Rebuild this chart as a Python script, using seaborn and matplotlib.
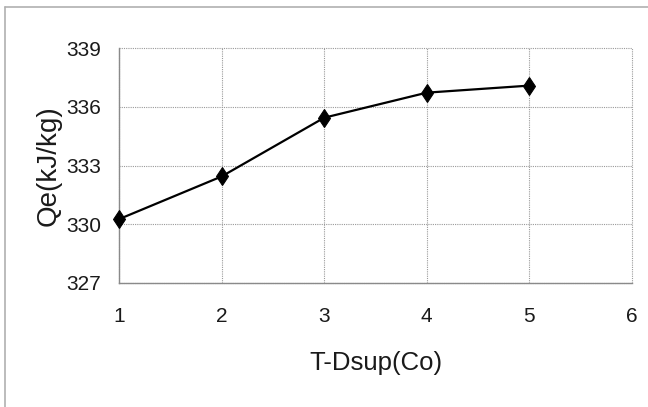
import numpy as np
import pandas as pd
import matplotlib
matplotlib.use("Agg")
import matplotlib.pyplot as plt
from matplotlib.lines import Line2D
import seaborn as sns

# values
t_dsup = [1, 2, 3, 4, 5]
qe = [330.26, 332.44, 335.44, 336.72, 337.08]
x_ticks = [1, 2, 3, 4, 5, 6]
y_ticks = [327, 330, 333, 336, 339]

df = pd.DataFrame({"T-Dsup(Co)": t_dsup, "Qe(kJ/kg)": qe})

sns.set_theme(style="white")
plt.rcParams['font.family'] = ['Liberation Sans', 'DejaVu Sans']

fig = plt.figure(figsize=(6.48, 4.07), dpi=100)
ax = fig.add_axes([119/648, 1 - 283/407, (632 - 119)/648, (283 - 48)/407])

sns.lineplot(data=df, x="T-Dsup(Co)", y="Qe(kJ/kg)", ax=ax, color="black",
             linewidth=1.6, marker="d", markersize=9.5, markeredgecolor="black",
             markerfacecolor="black", clip_on=False, zorder=5)

ax.set_xlim(1, 6)
ax.set_ylim(327, 339)
ax.set_xticks(x_ticks)
ax.set_yticks(y_ticks)

# dotted grid like the spreadsheet original
ax.grid(True, linestyle=(0, (1, 1)), color="#9a9a9a", linewidth=0.8)
for gl in ax.get_xgridlines() + ax.get_ygridlines():
    gl.set_clip_on(False)

for side in ["top", "right"]:
    ax.spines[side].set_visible(False)
for side in ["left", "bottom"]:
    ax.spines[side].set_color("#8a8a8a")
    ax.spines[side].set_linewidth(1.0)

ax.tick_params(axis="both", direction="out", length=5, width=0.8, color="#8a8a8a",
               labelsize=15, labelcolor="#1a1a1a")
ax.tick_params(axis="x", pad=12)
ax.tick_params(axis="y", pad=8)
ax.set_xlabel("T-Dsup(Co)", fontsize=18.5, color="#1a1a1a", labelpad=18)
ax.set_ylabel("Qe(kJ/kg)", fontsize=20, color="#1a1a1a", labelpad=3)

# outer chart border (only top and left survive in the crop)
fig.add_artist(Line2D([5/648, 1], [1 - 7/407, 1 - 7/407], transform=fig.transFigure,
                      color="#b0b0b0", linewidth=1.2))
fig.add_artist(Line2D([5/648, 5/648], [0, 1 - 7/407], transform=fig.transFigure,
                      color="#b0b0b0", linewidth=1.2))

fig.savefig("out.png", dpi=100, facecolor="white")
